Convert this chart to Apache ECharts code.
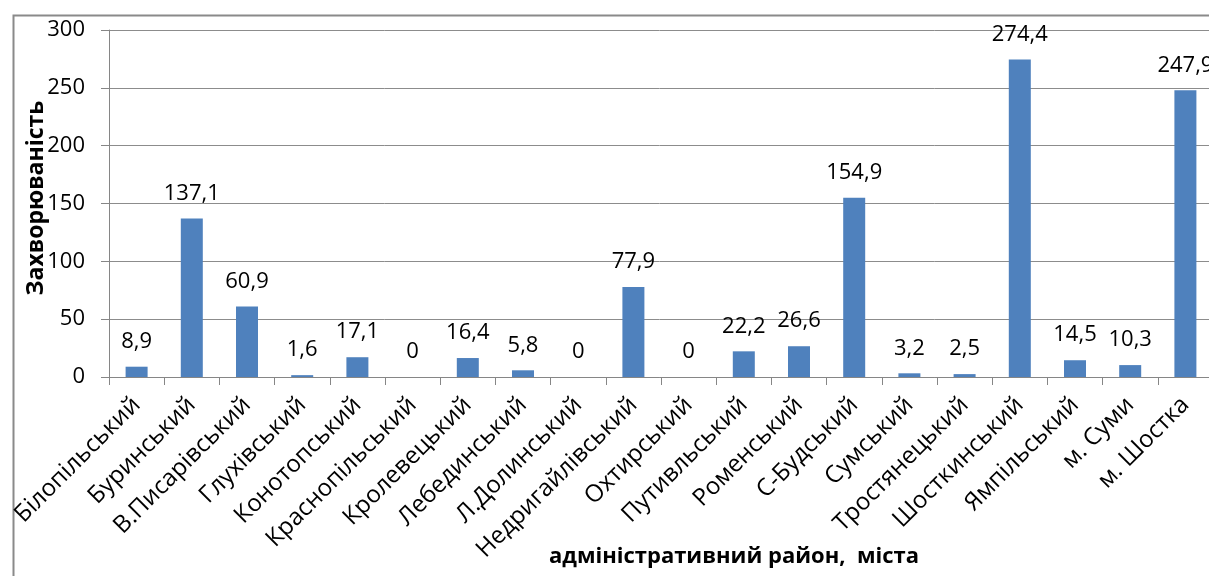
<!DOCTYPE html>
<html>
<head>
<meta charset="utf-8">
<script src="https://cdn.jsdelivr.net/npm/echarts@6/dist/echarts.min.js"></script>
<style>
html,body{margin:0;padding:0;background:#fff;}
#chart{width:1209px;height:576px;}
</style>
</head>
<body>
<div id="chart"></div>
<script>
// Administrative districts and cities of Sumy oblast
const districts = ['Білопільський','Буринський','В.Писарівський','Глухівський','Конотопський',
  'Краснопільський','Кролевецький','Лебединський','Л.Долинський','Недригайлівський',
  'Охтирський','Путивльський','Роменський','С-Будський','Сумський','Тростянецький',
  'Шосткинський','Ямпільський','м. Суми','м. Шостка'];
// Morbidity per district
const morbidity = [8.9,137.1,60.9,1.6,17.1,0,16.4,5.8,0,77.9,0,22.2,26.6,154.9,3.2,2.5,274.4,14.5,10.3,247.9];
const yTicks = [0,50,100,150,200,250,300];
const xTitle = 'адміністративний район,  міста';
const yTitle = 'Захворюваність';

const FONT = '"Open Sans", "Noto Sans", sans-serif';
const chart = echarts.init(document.getElementById('chart'), null, {renderer:'canvas'});
chart.setOption({
  animation:false,
  backgroundColor:'#fff',
  graphic:[
    {type:'rect', left:11, top:13, shape:{x:0,y:0,width:1260,height:620},
     style:{fill:'none', stroke:'#8a8a8a', lineWidth:2}, silent:true, z:-1},
    {type:'text', x:734, y:557,
     style:{text:xTitle, font:'bold 22px ' + FONT, fill:'#000', align:'center', verticalAlign:'middle'}},
    {type:'text', x:36, y:198, rotation:Math.PI/2,
     style:{text:yTitle, font:'bold 23px ' + FONT, fill:'#000', align:'center', verticalAlign:'middle'}}
  ],
  grid:{left:109, top:30, width:1104, bottom:199, containLabel:false, outerBoundsMode:'none'},
  xAxis:{
    type:'category', data:districts,
    axisLine:{lineStyle:{color:'#868686', width:1}},
    axisTick:{show:true, length:8, alignWithLabel:false, lineStyle:{color:'#868686'}},
    axisLabel:{rotate:45, interval:0, fontFamily:FONT, fontSize:24, color:'#000', margin:24}
  },
  yAxis:{
    type:'value', min:yTicks[0], max:yTicks[yTicks.length-1], interval:50,
    axisLine:{show:true, lineStyle:{color:'#868686', width:1}},
    axisTick:{show:true, length:8, lineStyle:{color:'#868686'}},
    axisLabel:{fontFamily:FONT, fontSize:22, color:'#000', margin:24},
    splitLine:{show:true, lineStyle:{color:'#8c8c8c', width:1}}
  },
  series:[{
    type:'bar', data:morbidity, barWidth:22,
    itemStyle:{color:'#4F81BD'},
    label:{show:true, position:'top', distance:14, fontFamily:FONT, fontSize:22, color:'#000',
      formatter:p => String(p.value).replace('.', ',')}
  }]
});
</script>
</body>
</html>
